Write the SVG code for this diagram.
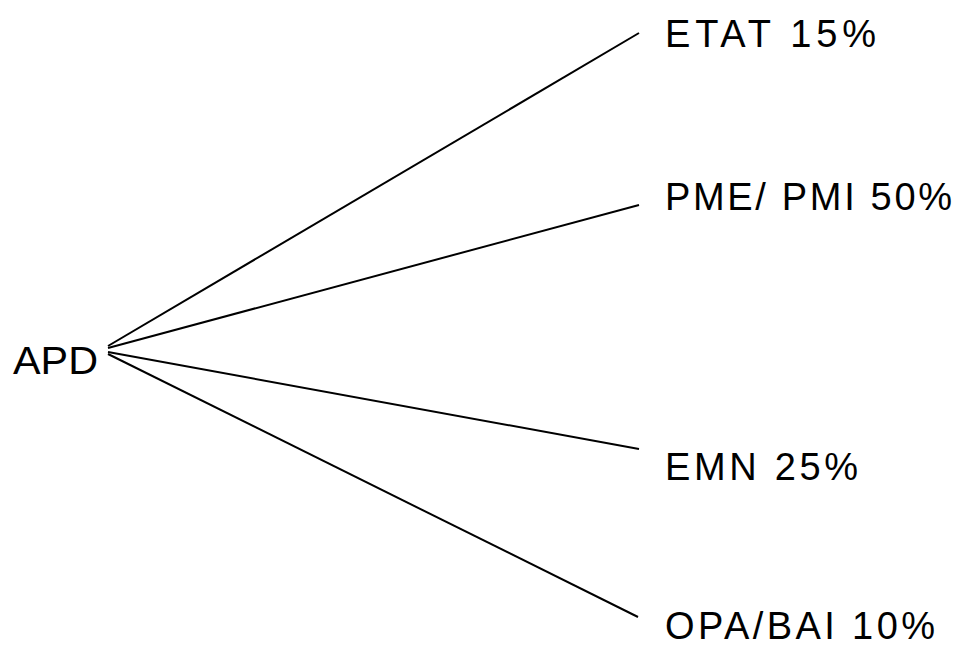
<svg xmlns="http://www.w3.org/2000/svg" width="961" height="646" viewBox="0 0 961 646">
  <style>
    .lbl { font-family: "Liberation Sans", Arial, sans-serif; font-size: 38px; fill: #000; }
    .edge { stroke: #000; stroke-width: 2; fill: none; }
  </style>
  <rect width="961" height="646" fill="#fff"/>
  <g id="connectors">
    <line class="edge" x1="108" y1="346" x2="639" y2="33"/>
    <line class="edge" x1="108" y1="348" x2="639" y2="205"/>
    <line class="edge" x1="108" y1="352" x2="639" y2="449"/>
    <line class="edge" x1="108" y1="354" x2="638" y2="617"/>
  </g>
  <g id="node-apd">
    <text class="lbl" x="13" y="374" textLength="85" lengthAdjust="spacingAndGlyphs" style="font-size:39px">APD</text>
  </g>
  <g id="node-etat">
    <text class="lbl" x="665" y="47" textLength="211" lengthAdjust="spacing">ETAT 15%</text>
  </g>
  <g id="node-pme">
    <text class="lbl" x="665" y="210" textLength="287" lengthAdjust="spacing">PME/ PMI 50%</text>
  </g>
  <g id="node-emn">
    <text class="lbl" x="665" y="480" textLength="193" lengthAdjust="spacing">EMN 25%</text>
  </g>
  <g id="node-opa">
    <text class="lbl" x="665" y="639" textLength="270" lengthAdjust="spacing">OPA/BAI 10%</text>
  </g>
</svg>
